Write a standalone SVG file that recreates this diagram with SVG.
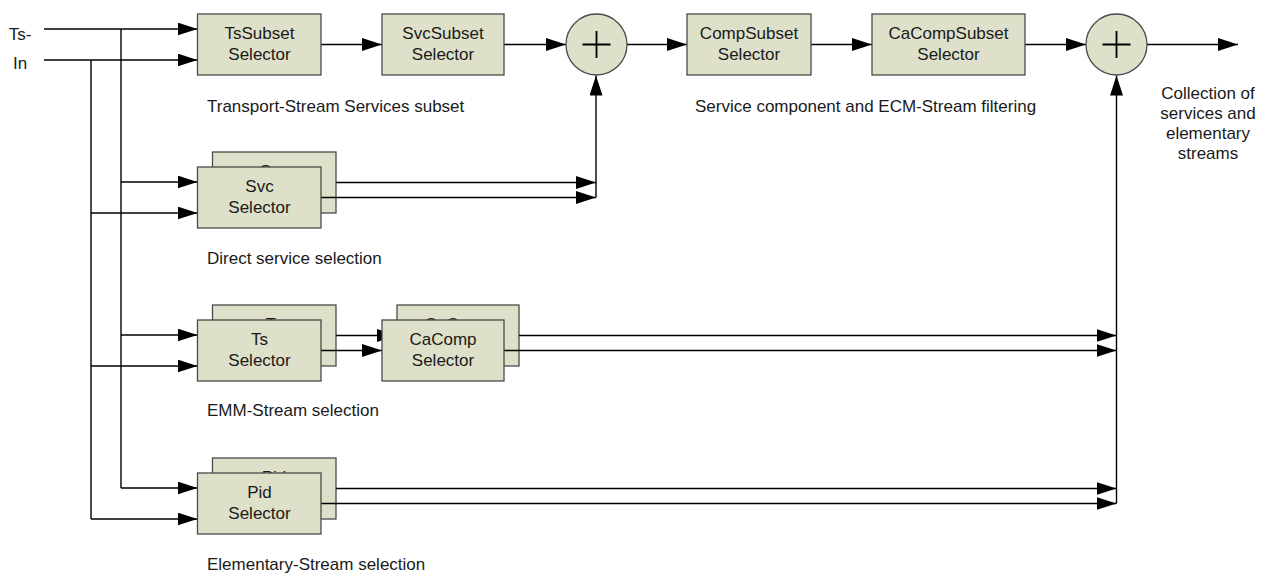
<svg xmlns="http://www.w3.org/2000/svg" width="1267" height="573" viewBox="0 0 1267 573">
<defs>
<marker id="ah" markerWidth="20" markerHeight="13" refX="20" refY="6.5" orient="auto" markerUnits="userSpaceOnUse">
<path d="M0,0 L20,6.5 L0,13 z" fill="#000"/>
</marker>
<style>
.box{fill:#dee0c9;stroke:#4a4a4a;stroke-width:1.3}
.lbl{font-family:"Liberation Sans",Arial,sans-serif;font-size:17px;fill:#1a1a1a;text-anchor:middle}
.cap{font-family:"Liberation Sans",Arial,sans-serif;font-size:17px;fill:#1a1a1a}
.ln{fill:none;stroke:#000;stroke-width:1.4}
.ar{fill:none;stroke:#000;stroke-width:1.4;marker-end:url(#ah)}
.plus{stroke:#000;stroke-width:1.8}
</style>
</defs>
<rect width="1267" height="573" fill="#fff"/>

<g id="input-label">
<text class="lbl" x="20" y="40">Ts-</text>
<text class="lbl" x="20" y="69">In</text>
</g>

<!-- back boxes (stacked); their labels are mostly hidden by the front boxes -->
<g id="svc-selector-back">
<rect class="box" x="212.5" y="152" width="123.5" height="61"/>
<text class="lbl" x="274" y="177">Svc</text>
</g>
<g id="ts-selector-back">
<rect class="box" x="212.5" y="305" width="123.5" height="61"/>
<text class="lbl" x="274" y="330">Ts</text>
</g>
<g id="cacomp-selector-back">
<rect class="box" x="397" y="305" width="122" height="61"/>
<text class="lbl" x="458" y="330">CaComp</text>
</g>
<g id="pid-selector-back">
<rect class="box" x="212.5" y="458" width="123.5" height="61"/>
<text class="lbl" x="274" y="483">Pid</text>
</g>

<g id="connectors">
<path class="ar" d="M44,29 H197.5"/>
<path class="ar" d="M44,60 H197.5"/>
<path class="ln" d="M121,29 V488"/>
<path class="ln" d="M91,60 V519"/>
<path class="ar" d="M121,182 H197.5"/>
<path class="ar" d="M91,213 H197.5"/>
<path class="ar" d="M121,335 H197.5"/>
<path class="ar" d="M91,366 H197.5"/>
<path class="ar" d="M121,488 H197.5"/>
<path class="ar" d="M91,519 H197.5"/>
<path class="ar" d="M321,44.5 H382"/>
<path class="ar" d="M504,44.5 H566"/>
<path class="ar" d="M627,44.5 H687"/>
<path class="ar" d="M811,44.5 H872"/>
<path class="ar" d="M1025,44.5 H1086"/>
<path class="ar" d="M1147,44.5 H1238"/>
<path class="ar" d="M336,182.5 H596"/>
<path class="ar" d="M321,197.5 H596"/>
<path class="ar" d="M596,197.5 V75.5"/>
<path class="ar" d="M336,335.5 H397"/>
<path class="ar" d="M321,350.5 H382"/>
<path class="ar" d="M519,335.5 H1116.5"/>
<path class="ar" d="M504,350.5 H1116.5"/>
<path class="ar" d="M336,488.5 H1116.5"/>
<path class="ar" d="M321,503.5 H1116.5"/>
<path class="ar" d="M1116.5,503.5 V75.5"/>
</g>

<g id="tssubset-selector">
<rect class="box" x="197.5" y="14" width="123.5" height="61"/>
<text class="lbl" x="259.5" y="39">TsSubset</text>
<text class="lbl" x="259.5" y="60">Selector</text>
</g>
<g id="svcsubset-selector">
<rect class="box" x="382" y="14" width="122" height="61"/>
<text class="lbl" x="443" y="39">SvcSubset</text>
<text class="lbl" x="443" y="60">Selector</text>
</g>
<g id="adder-1">
<circle class="box" cx="596.5" cy="44.5" r="30.5"/>
<path class="plus" d="M582.5,44.5 H610.5 M596.5,31 V58"/>
</g>
<g id="compsubset-selector">
<rect class="box" x="687" y="14" width="124" height="61"/>
<text class="lbl" x="749" y="39">CompSubset</text>
<text class="lbl" x="749" y="60">Selector</text>
</g>
<g id="cacompsubset-selector">
<rect class="box" x="872" y="14" width="153" height="61"/>
<text class="lbl" x="948.5" y="39">CaCompSubset</text>
<text class="lbl" x="948.5" y="60">Selector</text>
</g>
<g id="adder-2">
<circle class="box" cx="1116.5" cy="44.5" r="30.5"/>
<path class="plus" d="M1102.5,44.5 H1130.5 M1116.5,31 V58"/>
</g>

<g id="svc-selector">
<rect class="box" x="197.5" y="167" width="123.5" height="61"/>
<text class="lbl" x="259.5" y="192">Svc</text>
<text class="lbl" x="259.5" y="213">Selector</text>
</g>
<g id="ts-selector">
<rect class="box" x="197.5" y="320" width="123.5" height="61"/>
<text class="lbl" x="259.5" y="345">Ts</text>
<text class="lbl" x="259.5" y="366">Selector</text>
</g>
<g id="cacomp-selector">
<rect class="box" x="382" y="320" width="122" height="61"/>
<text class="lbl" x="443" y="345">CaComp</text>
<text class="lbl" x="443" y="366">Selector</text>
</g>
<g id="pid-selector">
<rect class="box" x="197.5" y="473" width="123.5" height="61"/>
<text class="lbl" x="259.5" y="498">Pid</text>
<text class="lbl" x="259.5" y="519">Selector</text>
</g>

<g id="captions">
<text class="cap" x="207" y="112">Transport-Stream Services subset</text>
<text class="cap" x="695" y="112">Service component and ECM-Stream filtering</text>
<text class="cap" x="207" y="264">Direct service selection</text>
<text class="cap" x="207" y="416">EMM-Stream selection</text>
<text class="cap" x="207" y="570">Elementary-Stream selection</text>
<text class="lbl" x="1208" y="99">Collection of</text>
<text class="lbl" x="1208" y="119">services and</text>
<text class="lbl" x="1208" y="139">elementary</text>
<text class="lbl" x="1208" y="159">streams</text>
</g>
</svg>
